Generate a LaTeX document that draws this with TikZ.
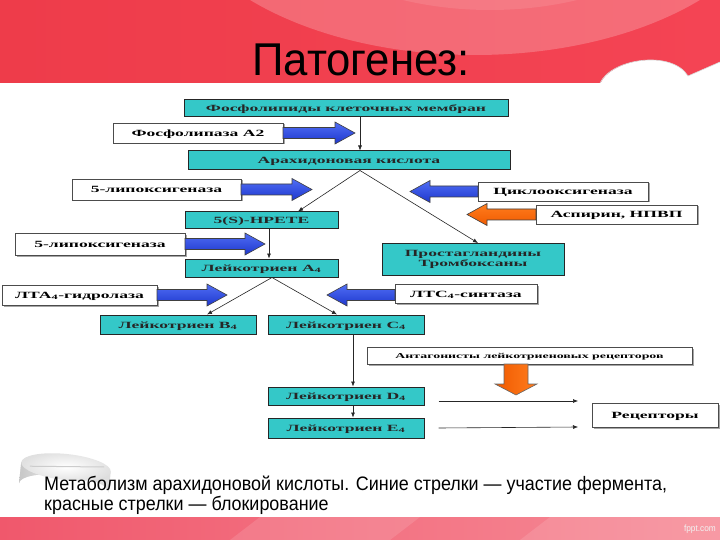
\documentclass[tikz,border=0pt]{standalone}
\usepackage{fontspec}
\setmainfont{Liberation Serif}
\newfontfamily\boxfont[FakeStretch=1.85]{Liberation Serif}
\newfontfamily\narrowfont[FakeStretch=0.92]{Liberation Sans}
\newfontfamily\titlefont[FakeStretch=0.95]{Liberation Sans}
\usetikzlibrary{arrows.meta,shadows}
\definecolor{tealbox}{RGB}{52,200,200}
\definecolor{blueA}{RGB}{80,110,245}
\definecolor{blueB}{RGB}{30,55,205}
\definecolor{orA}{RGB}{255,125,30}
\definecolor{orB}{RGB}{240,90,0}
\definecolor{hdrA}{RGB}{238,60,74}
\definecolor{hdrB}{RGB}{244,68,84}
\definecolor{ftA}{RGB}{240,88,108}
\definecolor{ftB}{RGB}{246,140,152}
\newcommand{\harr}[5]{% #1 top col, #2 bottom col, #3 x tail, #4 x tip, #5 y
  \pgfmathsetmacro\hx{ifthenelse(#4>#3,#4-20,#4+20)}
  \path[draw=black!75, line width=0.6pt, top color=#1, bottom color=#2]
   (#3,#5-5.5) -- (\hx,#5-5.5) -- (\hx,#5-11) -- (#4,#5) -- (\hx,#5+11)
   -- (\hx,#5+5.5) -- (#3,#5+5.5) -- cycle;}
\tikzset{
  boxtext/.style={font=\boxfont\bfseries\fontsize{9.5}{10.5}\selectfont, text height=7.6pt, text depth=0.6pt},
  tbox/.style={draw=black!85, line width=1pt, fill=tealbox, inner sep=0pt,
    boxtext, text=black!85},
  wbox/.style={draw=black!70, line width=0.8pt, fill=white, inner sep=0pt,
    boxtext, text=black,
    drop shadow={shadow xshift=1.5pt, shadow yshift=-1.5pt, fill=black!35, opacity=1}},
  conn/.style={draw=black!85, line width=0.6pt, -{Latex[length=5pt,width=4pt]}},
  captext/.style={font=\narrowfont\fontsize{19.5}{21}\selectfont, text=black, inner sep=0pt}
}
\begin{document}
\begin{tikzpicture}[x=1pt,y=-1pt]
\useasboundingbox (0,0) rectangle (720,540);
\fill[white] (0,0) rectangle (720,540);
% header band
\shade[left color=hdrA, right color=hdrB] (0,0) rectangle (720,83);
\begin{scope}
\clip (0,0) rectangle (720,83);
\fill[white,opacity=0.22] (475,-120) ellipse [x radius=309, y radius=175];
\fill[white,opacity=0.10] (490,-150) ellipse [x radius=250, y radius=160];
\fill[white] (600,84) .. controls (612,58) and (672,50) .. (688,76) -- (720,62) -- (720,84) -- cycle;
\draw[black!15, line width=0.6pt] (600,83) .. controls (612,58) and (672,50) .. (688,76) -- (720,62);
\end{scope}
% footer band
\shade[left color=ftA, right color=ftB] (0,517) rectangle (720,540);
\begin{scope}
\clip (0,517) rectangle (720,540);
\fill[white,opacity=0.12] (230,540) -- (260,517) -- (420,517) -- (390,540) -- cycle;
\fill[white,opacity=0.12] (520,540) -- (550,517) -- (720,517) -- (720,540) -- cycle;
\end{scope}
\node[text=white!90!gray, font=\narrowfont\fontsize{9}{10}\selectfont, anchor=east, inner sep=0pt] (fppt) at (716,529) {fppt.com};
% pill
\begin{scope}[rotate around={-6:(66,467)}]
\path[fill=black!13] (21,467) -- (21,488) arc[start angle=180, end angle=360, x radius=45, y radius=13] -- (111,467) -- cycle;
\shade[left color=black!22, right color=black!6] (21,467) -- (21,488) arc[start angle=180, end angle=270, x radius=45, y radius=13] -- (66,467) -- cycle;
\shade[inner color=white, outer color=black!12] (66,467) ellipse [x radius=45, y radius=13];
\draw[black!20, line width=1pt] (30,470) -- (104,463);
\end{scope}
% title
\node[anchor=base west, inner sep=0pt, font=\titlefont\fontsize{46}{50}\selectfont] (title) at (252,76) {Патогенез:};
% boxes
\node[tbox, minimum width=324pt, minimum height=17pt] (ph) at (346,108.5) {Фосфолипиды клеточных мембран};
\node[wbox, minimum width=170pt, minimum height=20pt] (pla) at (198,133) {Фосфолипаза А2};
\node[tbox, minimum width=322pt, minimum height=19pt] (ara) at (349,160.5) {Арахидоновая кислота};
\node[wbox, minimum width=169pt, minimum height=21pt] (lox1) at (156.5,189.5) {5-липоксигеназа};
\node[wbox, minimum width=170pt, minimum height=19pt] (cox) at (563,191.5) {Циклооксигеназа};
\node[wbox, minimum width=161pt, minimum height=19pt] (asp) at (616.5,214.5) {Аспирин, НПВП};
\node[tbox, minimum width=153pt, minimum height=17pt] (hpete) at (261.5,220.5) {5(S)-HPETE};
\node[tbox, minimum width=182pt, minimum height=32pt, text height=, text depth=, align=center] (prost) at (473,259.5) {Простагландины\\Тромбоксаны};
\node[wbox, minimum width=170pt, minimum height=22pt] (lox2) at (100,244) {5-липоксигеназа};
\node[tbox, minimum width=153pt, minimum height=18pt] (lta) at (261.5,268) {Лейкотриен А\textsubscript{4}};
\node[wbox, minimum width=155pt, minimum height=20pt] (ltah) at (79.5,295) {ЛТА\textsubscript{4}-гидролаза};
\node[wbox, minimum width=142pt, minimum height=19pt] (ltcs) at (466,293.5) {ЛТС\textsubscript{4}-синтаза};
\node[tbox, minimum width=156pt, minimum height=19pt] (b4) at (178,324.5) {Лейкотриен В\textsubscript{4}};
\node[tbox, minimum width=156pt, minimum height=19pt] (c4) at (346,324.5) {Лейкотриен С\textsubscript{4}};
\node[wbox, minimum width=325pt, minimum height=17pt, font=\boxfont\bfseries\fontsize{7.5}{8.5}\selectfont, text height=6pt, text depth=0.5pt] (ant) at (529.5,355.5) {Антагонисты лейкотриеновых рецепторов};
\node[tbox, minimum width=156pt, minimum height=18pt] (d4) at (346,396) {Лейкотриен D\textsubscript{4}};
\node[tbox, minimum width=156pt, minimum height=20pt] (e4) at (346,428) {Лейкотриен Е\textsubscript{4}};
\node[wbox, minimum width=126pt, minimum height=24pt] (rec) at (655,415) {Рецепторы};
% thin connectors
\draw[conn] ([xshift=14pt]ph.south) -- ([xshift=11pt]ara.north);
\draw[conn] ([xshift=11pt]ara.south) -- ([xshift=36.5pt]hpete.north);
\draw[conn] ([xshift=11pt]ara.south) -- ([xshift=5pt]prost.north);
\draw[conn] ([xshift=7.5pt]hpete.south) -- ([xshift=7.5pt]lta.north);
\draw[conn] ([xshift=10.5pt]lta.south) -- ([xshift=29pt]b4.north);
\draw[conn] ([xshift=10.5pt]lta.south) -- ([xshift=-9pt]c4.north);
\draw[conn] ([xshift=7pt]c4.south) -- ([xshift=7pt]d4.north);
\draw[conn] ([xshift=7pt]d4.south) -- ([xshift=7pt]e4.north);
\coordinate (d4end) at (578,401);
\coordinate (e4end) at (578,427);
\draw[conn] ([xshift=14pt,yshift=-5pt]d4.east) -- (d4end);
\draw[conn] ([xshift=14pt]e4.east) -- (e4end);
% block arrows
\harr{blueA}{blueB}{283}{355}{133}
\harr{blueA}{blueB}{241}{312}{189.5}
\harr{blueA}{blueB}{478}{410}{191.5}
\harr{orA}{orB}{536}{467}{214.5}
\harr{blueA}{blueB}{185}{265}{244}
\harr{blueA}{blueB}{157}{227}{295}
\harr{blueA}{blueB}{395}{327}{295}
\path[draw=black!60, line width=0.6pt, left color=orB, right color=orA]
  (504,364) -- (504,384) -- (495,384) -- (516,395) -- (537,384) -- (528,384) -- (528,364) -- cycle;
% caption
\node[captext, anchor=base west] (cap1) at (44,490) {Метаболизм арахидоновой кислоты. Синие стрелки — участие фермента,};
\node[captext, anchor=base west] (cap2) at (44,510) {красные стрелки — блокирование};
\end{tikzpicture}
\end{document}
